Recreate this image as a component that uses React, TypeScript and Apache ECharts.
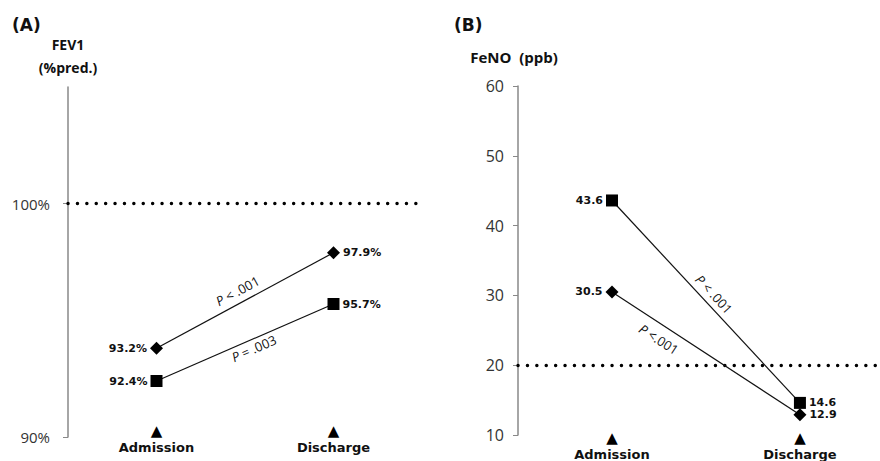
import React, { useEffect, useRef } from "react";
import * as echarts from "echarts";

const categories = ["Admission", "Discharge"];

// Panel A — FEV1 (%pred.)
const fevDiamond = [93.8, 97.9];
const fevDiamondLabels = ["93.2%", "97.9%"];
const fevSquare = [92.4, 95.7];
const fevSquareLabels = ["92.4%", "95.7%"];
const fevReference = 100;
const fevTicks = [90, 100];
const fevPLabels = ["P < .001", "P = .003"];

// Panel B — FeNO (ppb)
const fenoSquare = [43.6, 14.6];
const fenoSquareLabels = ["43.6", "14.6"];
const fenoDiamond = [30.5, 12.9];
const fenoDiamondLabels = ["30.5", "12.9"];
const fenoReference = 20;
const fenoTicks = [10, 20, 30, 40, 50, 60];
const fenoPLabels = ["P < .001", "P <.001"];

const BOLD = "DejaVu Sans";
const REG = "Open Sans";

function pointData(values: number[], labels: string[], pairs: boolean) {
  return values.map((v, i) => ({
    value: pairs ? [i, v] : v,
    label: {
      show: true,
      position: i === 0 ? "left" : "right",
      distance: 3,
      formatter: labels[i],
      fontFamily: BOLD,
      fontWeight: "bold",
      fontSize: 11,
      color: "#111",
    },
  }));
}

function lineSeries(
  name: string,
  idx: number,
  values: number[],
  labels: string[],
  symbol: string,
  size: number,
  markY?: number
) {
  const s: any = {
    name,
    type: "line",
    xAxisIndex: idx,
    yAxisIndex: idx,
    data: pointData(values, labels, idx === 1),
    symbol,
    symbolSize: size,
    itemStyle: { color: "#000" },
    lineStyle: { color: "#111", width: 1.2 },
    z: 5,
  };
  if (markY !== undefined) {
    s.markLine = {
      silent: true,
      symbol: "none",
      label: { show: false },
      lineStyle: { color: "#000", width: 3.4, type: [0.1, 9.3], cap: "round" },
      data: [{ yAxis: markY }],
      z: 2,
    };
  }
  return s;
}

const catRich = {
  t: { fontFamily: BOLD, fontSize: 15, lineHeight: 16, color: "#000" },
  b: {
    fontFamily: BOLD,
    fontWeight: "bold",
    fontSize: 13,
    lineHeight: 16,
    color: "#111",
  },
};

export default function App() {
  const ref = useRef<HTMLDivElement>(null);

  useEffect(() => {
    if (!ref.current) return;
    const chart = echarts.init(ref.current, null, { renderer: "svg" });

    const option: any = {
      animation: false,
      backgroundColor: "#fff",
      grid: [
        { left: 68, top: 87, width: 354, height: 350 },
        { left: 518, top: 86, right: 0, height: 349 },
      ],
      xAxis: [
        {
          type: "category",
          gridIndex: 0,
          data: categories,
          boundaryGap: true,
          axisLine: { show: false },
          axisTick: { show: false },
          splitLine: { show: false },
          axisLabel: {
            margin: -14,
            interval: 0,
            formatter: (v: string) => `{t|▲}\n{b|${v}}`,
            rich: catRich,
          },
        },
        {
          type: "value",
          gridIndex: 1,
          min: -0.5,
          max: 1.426,
          axisLine: { show: false, onZero: false },
          axisTick: { show: false },
          splitLine: { show: false },
          axisLabel: {
            margin: -5,
            customValues: [0, 1],
            formatter: (v: number) => `{t|▲}\n{b|${categories[Math.round(v)]}}`,
            rich: catRich,
          },
        },
      ],
      yAxis: [
        {
          type: "value",
          gridIndex: 0,
          min: 90,
          max: 105,
          interval: 5,
          name: "FEV1\n(%pred.)",
          nameLocation: "end",
          nameGap: 8,
          nameTextStyle: {
            fontFamily: REG,
            fontWeight: "bold",
            fontSize: 14,
            lineHeight: 23,
            align: "center",
            color: "#111",
          },
          axisLine: { show: true, onZero: false, lineStyle: { color: "#888", width: 1.5 } },
          axisTick: {
            show: true,
            length: 5,
            customValues: fevTicks,
            lineStyle: { color: "#888" },
          },
          splitLine: { show: false },
          axisLabel: {
            customValues: fevTicks,
            formatter: "{value}%",
            margin: 18,
            fontFamily: REG,
            fontSize: 15,
            color: "#333",
          },
        },
        {
          type: "value",
          gridIndex: 1,
          min: 10,
          max: 60,
          interval: 10,
          name: "FeNO  (ppb)",
          nameLocation: "end",
          nameGap: 22,
          nameTextStyle: {
            fontFamily: REG,
            fontWeight: "bold",
            fontSize: 15,
            align: "center",
            padding: [0, 8, 0, 0],
            color: "#111",
          },
          axisLine: { show: true, onZero: false, lineStyle: { color: "#888", width: 1.5 } },
          axisTick: { show: true, length: 5, lineStyle: { color: "#888" } },
          splitLine: { show: false },
          axisLabel: {
            customValues: fenoTicks,
            margin: 14,
            fontFamily: REG,
            fontSize: 16,
            color: "#333",
          },
        },
      ],
      series: [
        lineSeries("FEV1 diamond", 0, fevDiamond, fevDiamondLabels, "diamond", 13, fevReference),
        lineSeries("FEV1 square", 0, fevSquare, fevSquareLabels, "rect", 12),
        lineSeries("FeNO square", 1, fenoSquare, fenoSquareLabels, "rect", 12, fenoReference),
        lineSeries("FeNO diamond", 1, fenoDiamond, fenoDiamondLabels, "diamond", 13),
      ],
      graphic: [],
    };

    chart.setOption(option);

    // P-value annotations placed along each connecting line (via the chart's scales)
    const specs = [
      { series: 0, values: fevDiamond, text: fevPLabels[0], t: 0.49, off: -12 },
      { series: 1, values: fevSquare, text: fevPLabels[1], t: 0.53, off: 9 },
      { series: 2, values: fenoSquare, text: fenoPLabels[0], t: 0.5, off: -11 },
      { series: 3, values: fenoDiamond, text: fenoPLabels[1], t: 0.29, off: 14 },
    ];
    const graphics = specs.map((s) => {
      const p0 = chart.convertToPixel({ seriesIndex: s.series }, [0, s.values[0]]) as number[];
      const p1 = chart.convertToPixel({ seriesIndex: s.series }, [1, s.values[1]]) as number[];
      const dx = p1[0] - p0[0];
      const dy = p1[1] - p0[1];
      const len = Math.sqrt(dx * dx + dy * dy);
      const ux = dx / len;
      const uy = dy / len;
      const nx = -uy;
      const ny = ux;
      const mx = p0[0] + dx * s.t + nx * s.off;
      const my = p0[1] + dy * s.t + ny * s.off;
      const rest = s.text.slice(1);
      return {
        type: "text",
        x: mx,
        y: my,
        rotation: Math.atan2(-dy, dx),
        silent: true,
        style: {
          text: `{i|P}{r|${rest}}`,
          align: "center",
          verticalAlign: "middle",
          rich: {
            i: { fontFamily: REG, fontStyle: "italic", fontSize: 13, fill: "#111" },
            r: { fontFamily: REG, fontSize: 13, fill: "#111" },
          },
        },
      };
    });

    chart.setOption({
      graphic: [
        ...graphics,
        {
          type: "text",
          x: 12,
          y: 25,
          silent: true,
          style: {
            text: "(A)",
            fontFamily: BOLD,
            fontWeight: "bold",
            fontSize: 17,
            fill: "#111",
            verticalAlign: "middle",
          },
        },
        {
          type: "text",
          x: 454,
          y: 25,
          silent: true,
          style: {
            text: "(B)",
            fontFamily: BOLD,
            fontWeight: "bold",
            fontSize: 17,
            fill: "#111",
            verticalAlign: "middle",
          },
        },
      ],
    });

    return () => chart.dispose();
  }, []);

  return (
    <div
      ref={ref}
      style={{ position: "fixed", left: 0, top: 0, width: 880, height: 461, background: "#fff" }}
    />
  );
}
